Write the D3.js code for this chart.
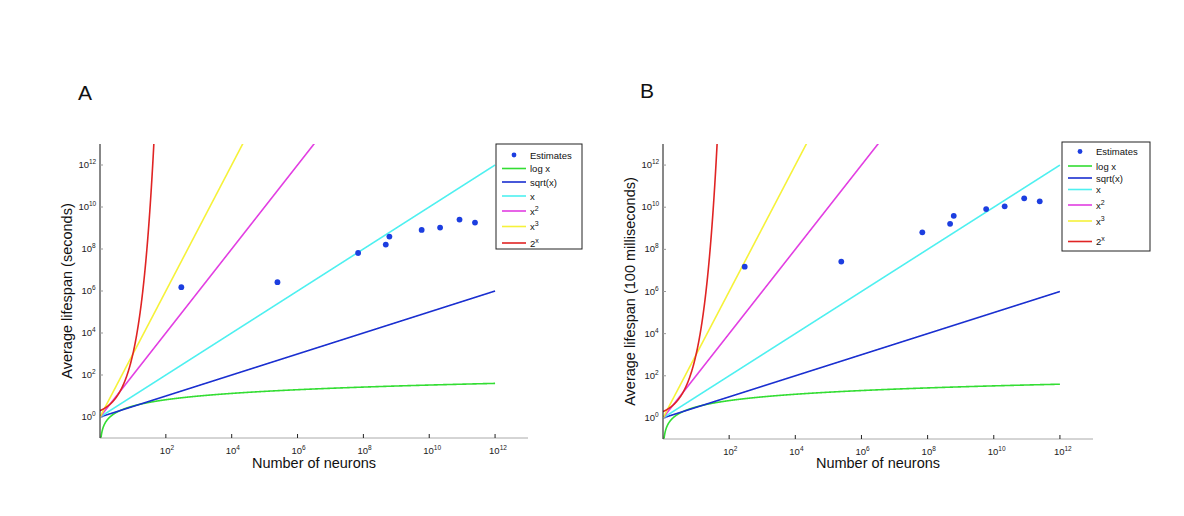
<!DOCTYPE html>
<html>
<head>
<meta charset="utf-8">
<style>
  body { margin: 0; background: #fff; }
  svg { display: block; font-family: 'Liberation Sans', Arial, sans-serif; }
</style>
</head>
<body>
<svg width="1184" height="516"></svg>
<script src="https://d3js.org/d3.v7.min.js"></script>
<script>
// estimates as log10 values
let estLogX = [2.47, 5.39, 7.84, 8.68, 8.79, 9.77, 10.33, 10.92, 11.39];
let estLogYSeconds = [6.18, 6.42, 7.81, 8.21, 8.59, 8.91, 9.02, 9.40, 9.26];
let estLogY100ms = [7.18, 7.42, 8.81, 9.21, 9.59, 9.91, 10.04, 10.42, 10.28];

// reference curves (defined by the legend labels themselves)
let curveNames = ["log x", "sqrt(x)", "x", "x^2", "x^3", "2^x"];
let curveColors = ["#33dd33", "#1a2fd0", "#4ef0f0", "#e23ee2", "#f6f23a", "#e02424"];
let curveFns = [
  x => Math.log2(x),
  x => Math.sqrt(x),
  x => x,
  x => x * x,
  x => x * x * x,
  x => Math.pow(2, x)
];

let xTicks = [1e2, 1e4, 1e6, 1e8, 1e10, 1e12];
let yTicks = [1e0, 1e2, 1e4, 1e6, 1e8, 1e10, 1e12];

let panels = [
  { letter: "A", lx: 78, ly: 100, x0: 100, x1: 528, y0: 438, y1: 144,
    ylabel: "Average lifespan (seconds)", est: estLogYSeconds,
    leg: { x: 496, y: 144, w: 86, h: 105, rows: [155, 168.5, 182, 196, 211, 226.5, 243] } },
  { letter: "B", lx: 640, ly: 98, x0: 663, x1: 1093, y0: 439, y1: 144,
    ylabel: "Average lifespan (100 milliseconds)", est: estLogY100ms,
    leg: { x: 1062, y: 142, w: 88, h: 109, rows: [151.5, 166, 178, 189.5, 205, 221, 241.5] } }
];

let svg = d3.select("svg");
svg.append("rect").attr("width", 1184).attr("height", 516).attr("fill", "#fff");

// sample points for the curves, log-spaced from 1 to 1e12
let samples = d3.range(0, 12.0001, 0.005).map(e => Math.pow(10, e));

function sup(sel, base, exp, size) {
  sel.append("tspan").text(base);
  sel.append("tspan").attr("dy", -4).attr("font-size", size || 6.5).text(exp);
}

panels.forEach((p, pi) => {
  let x = d3.scaleLog().domain([1, 1e13]).range([p.x0, p.x1]);
  let y = d3.scaleLog().domain([1e-1, 1e13]).range([p.y0, p.y1]);

  let g = svg.append("g");

  g.append("text").attr("x", p.lx).attr("y", p.ly)
    .attr("font-size", 21).attr("fill", "#111").text(p.letter);

  let clipId = "clip" + pi;
  g.append("clipPath").attr("id", clipId).append("rect")
    .attr("x", p.x0).attr("y", p.y1).attr("width", p.x1 - p.x0).attr("height", p.y0 - p.y1);

  let plot = g.append("g").attr("clip-path", "url(#" + clipId + ")");

  let line = d3.line()
    .x(d => x(d[0]))
    .y(d => y(Math.min(1e15, Math.max(1e-3, d[1]))));

  curveFns.forEach((f, i) => {
    plot.append("path")
      .datum(samples.map(v => [v, f(v)]))
      .attr("d", line)
      .attr("fill", "none")
      .attr("stroke", curveColors[i])
      .attr("stroke-width", 1.6);
  });

  plot.selectAll(".est")
    .data(estLogX.map((lx, i) => [Math.pow(10, lx), Math.pow(10, p.est[i])]))
    .join("circle")
    .attr("cx", d => x(d[0]))
    .attr("cy", d => y(d[1]))
    .attr("r", 2.9)
    .attr("fill", "#1c3ee0");

  // axes
  g.append("line").attr("x1", p.x0).attr("x2", p.x1).attr("y1", p.y0).attr("y2", p.y0)
    .attr("stroke", "#aaa").attr("stroke-width", 1);
  g.append("line").attr("x1", p.x0).attr("x2", p.x0).attr("y1", p.y0).attr("y2", p.y1)
    .attr("stroke", "#111").attr("stroke-width", 1);

  xTicks.forEach((t, i) => {
    g.append("line").attr("x1", x(t)).attr("x2", x(t)).attr("y1", p.y0).attr("y2", p.y0 - 4)
      .attr("stroke", "#222");
    let tx = g.append("text").attr("x", x(t) - 6).attr("y", p.y0 + 16)
      .attr("font-size", 9.5).attr("fill", "#222");
    sup(tx, "10", String(2 + 2 * i));
  });

  yTicks.forEach((t, i) => {
    g.append("line").attr("x1", p.x0).attr("x2", p.x0 + 3).attr("y1", y(t)).attr("y2", y(t))
      .attr("stroke", "#999");
    let e = String(2 * i);
    let ex = p.x0 - 4 - (e.length > 1 ? 7 : 4);
    g.append("text").attr("x", ex).attr("y", y(t) + 3)
      .attr("font-size", 9.5).attr("fill", "#222").attr("text-anchor", "end").text("10");
    g.append("text").attr("x", ex).attr("y", y(t) - 1)
      .attr("font-size", 6.5).attr("fill", "#222").text(e);
  });

  g.append("text")
    .attr("x", (p.x0 + p.x1) / 2).attr("y", 468)
    .attr("text-anchor", "middle").attr("font-size", 14.5).attr("fill", "#111")
    .text("Number of neurons");

  g.append("text")
    .attr("transform", "translate(" + (p.x0 - 28) + "," + ((p.y0 + p.y1) / 2) + ") rotate(-90)")
    .attr("text-anchor", "middle").attr("font-size", 14.5).attr("fill", "#111")
    .text(p.ylabel);

  // legend
  let L = p.leg;
  let lg = g.append("g");
  lg.append("rect").attr("x", L.x).attr("y", L.y).attr("width", L.w).attr("height", L.h)
    .attr("fill", "#fff").attr("stroke", "#222").attr("stroke-width", 1);
  let lx0 = L.x + 6, lx1 = L.x + 30, tx0 = L.x + 34;
  lg.append("circle").attr("cx", (lx0 + lx1) / 2).attr("cy", L.rows[0]).attr("r", 2.4).attr("fill", "#1c3ee0");
  lg.append("text").attr("x", tx0).attr("y", L.rows[0] + 3.5).attr("font-size", 9.5).attr("fill", "#111").text("Estimates");
  curveNames.forEach((n, i) => {
    let ry = L.rows[i + 1];
    lg.append("line").attr("x1", lx0).attr("x2", lx1).attr("y1", ry).attr("y2", ry)
      .attr("stroke", curveColors[i]).attr("stroke-width", 1.6);
    let t = lg.append("text").attr("x", tx0).attr("y", ry + 3.5).attr("font-size", 9.5).attr("fill", "#111");
    if (n.indexOf("^") > 0) {
      let parts = n.split("^");
      sup(t, parts[0], parts[1], 7);
    } else {
      t.text(n);
    }
  });
});
</script>
</body>
</html>
